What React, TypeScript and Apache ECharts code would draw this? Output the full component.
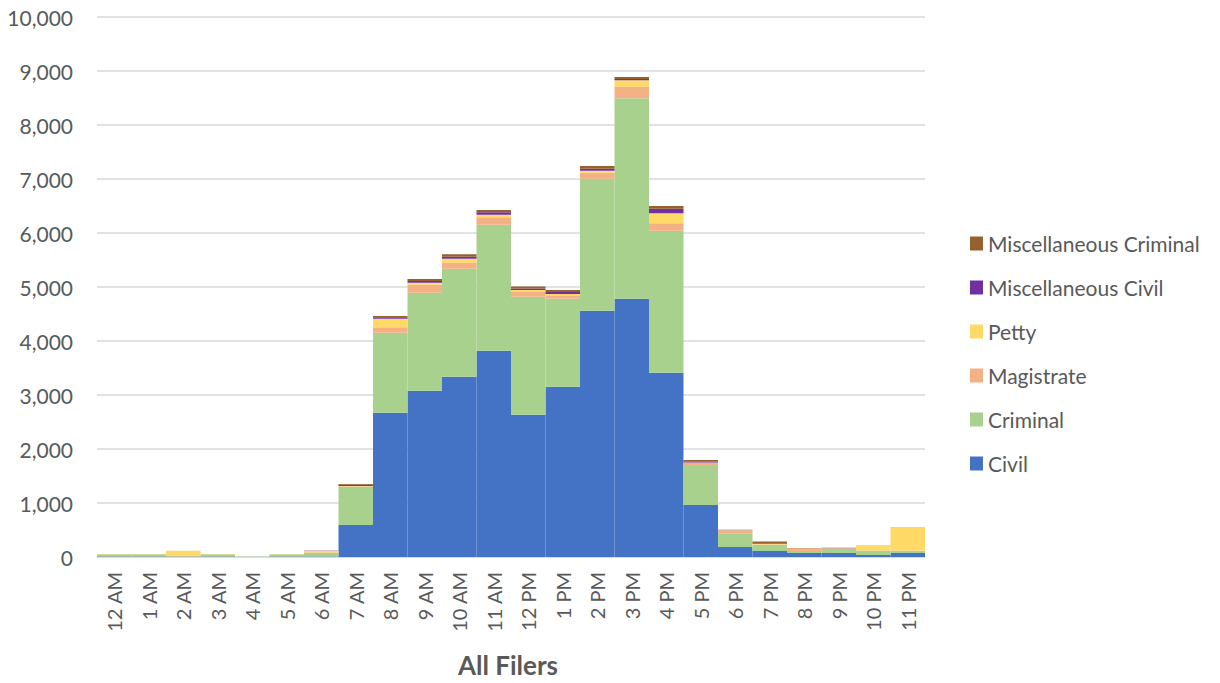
import React, { useEffect, useRef } from "react";
import * as echarts from "echarts";

const hours = ["12 AM", "1 AM", "2 AM", "3 AM", "4 AM", "5 AM", "6 AM", "7 AM", "8 AM", "9 AM", "10 AM", "11 AM", "12 PM", "1 PM", "2 PM", "3 PM", "4 PM", "5 PM", "6 PM", "7 PM", "8 PM", "9 PM", "10 PM", "11 PM"];
const civil = [8, 8, 5, 8, 2, 8, 10, 593, 2672, 3080, 3340, 3821, 2636, 3154, 4561, 4784, 3414, 963, 185, 111, 74, 74, 37, 74];
const criminal = [42, 42, 10, 42, 3, 42, 65, 709, 1482, 1815, 2000, 2333, 2185, 1630, 2445, 3710, 2629, 741, 253, 111, 37, 80, 80, 43];
const magistrate = [2, 2, 2, 2, 0, 2, 8, 10, 99, 148, 111, 136, 87, 49, 111, 216, 136, 40, 49, 10, 49, 5, 5, 5];
const petty = [3, 3, 100, 3, 0, 5, 35, 5, 160, 37, 74, 49, 37, 37, 37, 117, 185, 5, 10, 10, 2, 5, 80, 415];
const miscCivil = [0, 0, 0, 0, 0, 0, 2, 20, 25, 30, 37, 43, 25, 37, 37, 25, 86, 15, 3, 5, 2, 2, 2, 3];
const miscCriminal = [0, 0, 0, 0, 0, 0, 2, 15, 25, 37, 43, 43, 37, 37, 49, 37, 49, 30, 5, 40, 3, 3, 3, 3];
const yTicks = [0, 1000, 2000, 3000, 4000, 5000, 6000, 7000, 8000, 9000, 10000];

const seriesDefs = [
  { name: "Civil", data: civil, color: "#4472C4" },
  { name: "Criminal", data: criminal, color: "#A9D18E" },
  { name: "Magistrate", data: magistrate, color: "#F4B183" },
  { name: "Petty", data: petty, color: "#FFD966" },
  { name: "Miscellaneous Civil", data: miscCivil, color: "#7030A0" },
  { name: "Miscellaneous Criminal", data: miscCriminal, color: "#97602F" },
];

const FONT = "Lato, 'Open Sans', sans-serif";

export default function App() {
  const ref = useRef<HTMLDivElement>(null);
  useEffect(() => {
    if (!ref.current) return;
    const chart = echarts.init(ref.current, null, { renderer: "svg" });
    chart.setOption({
      animation: false,
      textStyle: { fontFamily: FONT },
      grid: { left: 97, right: 295, top: 17, bottom: 126, containLabel: false },
      legend: {
        orient: "vertical",
        left: 965,
        top: 228,
        itemWidth: 13,
        itemHeight: 14,
        itemGap: 23,
        icon: "rect",
        data: seriesDefs.map((s) => s.name).reverse(),
        textStyle: { fontSize: 21, color: "#595959", fontFamily: FONT },
      },
      xAxis: {
        type: "category",
        data: hours,
        axisLine: { lineStyle: { color: "#D9D9D9", width: 1.5 } },
        axisTick: { show: false },
        axisLabel: { rotate: 90, fontSize: 20, color: "#595959", margin: 15, interval: 0 },
      },
      yAxis: {
        type: "value",
        min: yTicks[0],
        max: yTicks[yTicks.length - 1],
        interval: 1000,
        axisLine: { show: false },
        axisTick: { show: false },
        splitLine: { lineStyle: { color: "#D9D9D9", width: 1.5 } },
        axisLabel: {
          fontSize: 21,
          color: "#595959",
          margin: 24,
          formatter: (v: number) => v.toLocaleString("en-US"),
        },
      },
      graphic: [
        {
          type: "text",
          x: 508,
          y: 665,
          style: {
            text: "All Filers",
            fontSize: 26,
            fontWeight: "bold",
            fill: "#595959",
            fontFamily: FONT,
            align: "center",
            verticalAlign: "middle",
          },
        },
      ],
      series: seriesDefs.map((s) => ({
        name: s.name,
        type: "bar",
        stack: "total",
        barCategoryGap: "0%",
        data: s.data,
        itemStyle: { color: s.color },
      })),
    });
    return () => chart.dispose();
  }, []);
  return (
    <div
      ref={ref}
      style={{ position: "absolute", left: 0, top: 0, width: 1220, height: 683 }}
    />
  );
}
